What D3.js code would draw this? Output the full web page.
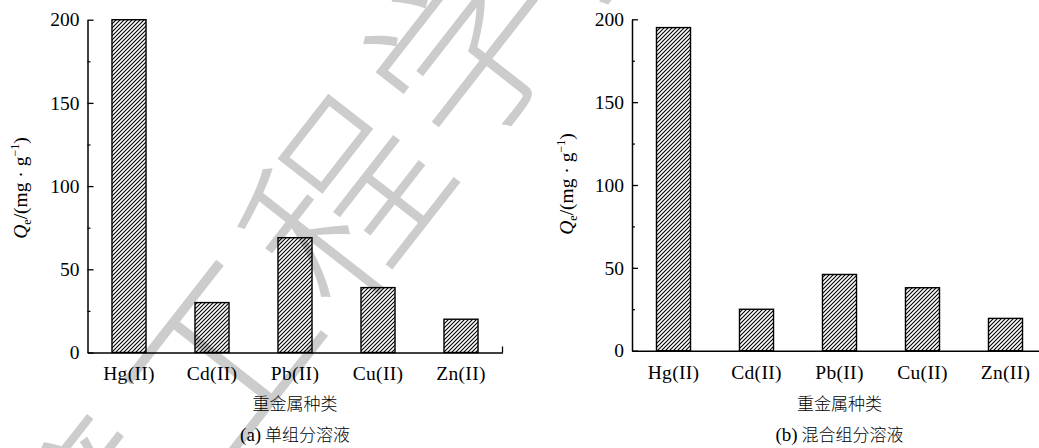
<!DOCTYPE html>
<html>
<head>
<meta charset="utf-8">
<script src="https://cdn.jsdelivr.net/npm/d3@7"></script>
<style>
  html, body { margin: 0; padding: 0; background: #fff; }
  svg { display: block; }
  .serif { font-family: "Liberation Serif", "Times New Roman", serif; }
  .cjk { font-family: "Noto Sans CJK SC", sans-serif; }
</style>
</head>
<body>
<svg id="chart" width="1039" height="448"></svg>
<script>
// Heavy-metal species on the x axis
const categories = ["Hg(II)", "Cd(II)", "Pb(II)", "Cu(II)", "Zn(II)"];
// Equilibrium adsorption capacity Qe (mg/g), single-component solutions
const singleValues = [200, 30, 69, 39, 20];
// Equilibrium adsorption capacity Qe (mg/g), mixed-component solution
const mixedValues = [195, 25, 46, 38, 19.5];
// Y-axis ticks
const yMajorTicks = [0, 50, 100, 150, 200];
const yMinorTicks = [25, 75, 125, 175];
const yDomain = [0, 200];
// Text
const xTitle = "重金属种类";
const captions = [["(a)", " 单组分溶液"], ["(b)", " 混合组分溶液"]];
const watermarkChars = ["环", "境", "工", "程", "学", "报"];

const svg = d3.select("#chart");

// Diagonal hatch fill for the bars
const defs = svg.append("defs");
defs.append("pattern")
  .attr("id", "hatch")
  .attr("patternUnits", "userSpaceOnUse")
  .attr("width", 4).attr("height", 4)
  .append("path")
  .attr("d", "M-1,1 l2,-2 M0,4 l4,-4 M3,5 l2,-2")
  .attr("stroke", "#000")
  .attr("stroke-width", 1.1);

function drawPanel(opts) {
  const g = svg.append("g");
  const y = d3.scaleLinear().domain(yDomain).range([opts.yBottom, opts.yTop]);
  const x = d3.scaleBand().domain(categories)
    .range([opts.x0, opts.x0 + 415])
    .paddingInner(0.59).paddingOuter(0.295);

  // Bars
  g.selectAll("rect.bar")
    .data(opts.values)
    .join("rect")
    .attr("class", "bar")
    .attr("x", (d, i) => x(categories[i]))
    .attr("y", d => y(d))
    .attr("width", x.bandwidth())
    .attr("height", d => y(0) - y(d))
    .attr("fill", "url(#hatch)")
    .attr("stroke", "#000")
    .attr("stroke-width", 1.4);

  // Y axis: major ticks point inward
  const yAxis = g.append("g")
    .attr("transform", `translate(${opts.x0},0)`)
    .call(d3.axisLeft(y).tickValues(yMajorTicks).tickSizeInner(-6).tickSizeOuter(0).tickPadding(8));
  yAxis.select(".domain").attr("stroke-width", 1.5);
  yAxis.selectAll(".tick line").attr("stroke-width", 1.3);
  yAxis.selectAll(".tick text")
    .attr("class", "serif")
    .attr("font-size", 19.5)
    .attr("fill", "#000");

  // Minor ticks
  const yMinor = g.append("g")
    .attr("transform", `translate(${opts.x0},0)`)
    .call(d3.axisLeft(y).tickValues(yMinorTicks).tickSizeInner(-3).tickSizeOuter(0).tickFormat(""));
  yMinor.select(".domain").remove();
  yMinor.selectAll(".tick line").attr("stroke-width", 1.2);

  // X axis with category labels
  const xAxis = g.append("g")
    .attr("transform", `translate(0,${opts.yBottom})`)
    .call(d3.axisBottom(x).tickSize(0).tickPadding(14));
  xAxis.select(".domain").attr("stroke-width", 1.5);
  xAxis.selectAll(".tick text")
    .attr("class", "serif")
    .attr("font-size", 19.5)
    .attr("letter-spacing", 0.3)
    .attr("fill", "#000");
  // Closing tick at the right end of the x axis
  const xEnd = x.range()[1];
  g.append("line")
    .attr("x1", xEnd).attr("x2", xEnd)
    .attr("y1", opts.yBottom).attr("y2", opts.yBottom - 6)
    .attr("stroke", "#000").attr("stroke-width", 1.3);

  const cx = (x.range()[0] + x.range()[1]) / 2;

  // X title
  g.append("text")
    .attr("class", "cjk")
    .attr("x", cx).attr("y", 410)
    .attr("text-anchor", "middle")
    .attr("font-size", 17)
    .attr("font-weight", 300)
    .text(xTitle);

  // Panel caption
  const cap = g.append("text")
    .attr("x", cx).attr("y", 441)
    .attr("text-anchor", "middle")
    .attr("font-size", 17);
  cap.append("tspan").attr("class", "serif").attr("font-size", 19).text(opts.caption[0]);
  cap.append("tspan").attr("class", "cjk").attr("font-weight", 300).text(opts.caption[1]);

  // Y title: Qe/(mg · g−1)
  const yt = g.append("text")
    .attr("class", "serif")
    .attr("font-size", 19.5)
    .attr("text-anchor", "middle")
    .attr("transform", `translate(${opts.labelX},${opts.labelY}) rotate(-90)`);
  yt.append("tspan").attr("font-style", "italic").text("Q");
  yt.append("tspan").attr("font-size", 12).attr("dy", 4).text("e");
  yt.append("tspan").attr("dy", -4).text("/(mg · g");
  yt.append("tspan").attr("font-size", 12).attr("dy", -8).text("−1");
  yt.append("tspan").attr("dy", 8).text(")");
}

drawPanel({ x0: 87.5, yTop: 19.7, yBottom: 352.5, values: singleValues, caption: captions[0], labelX: 27, labelY: 188 });
drawPanel({ x0: 632, yTop: 19.3, yBottom: 350.7, values: mixedValues, caption: captions[1], labelX: 573, labelY: 184 });

// Diagonal journal watermark overlaid on the left panel
const wm = svg.append("g")
  .style("mix-blend-mode", "multiply");
const angle = -52;
const rad = angle * Math.PI / 180;
const step = 200;
const anchor = { x: 335, y: 195, index: 3 };
wm.selectAll("text")
  .data(watermarkChars)
  .join("text")
  .attr("class", "cjk")
  .attr("font-size", 190)
  .attr("font-weight", 300)
  .attr("fill", "#cccccc")
  .attr("text-anchor", "middle")
  .attr("dominant-baseline", "central")
  .attr("transform", (d, i) => {
    const px = anchor.x + (i - anchor.index) * step * Math.cos(rad);
    const py = anchor.y + (i - anchor.index) * step * Math.sin(rad);
    return `translate(${px},${py}) rotate(${angle})`;
  })
  .text(d => d);
</script>
</body>
</html>
